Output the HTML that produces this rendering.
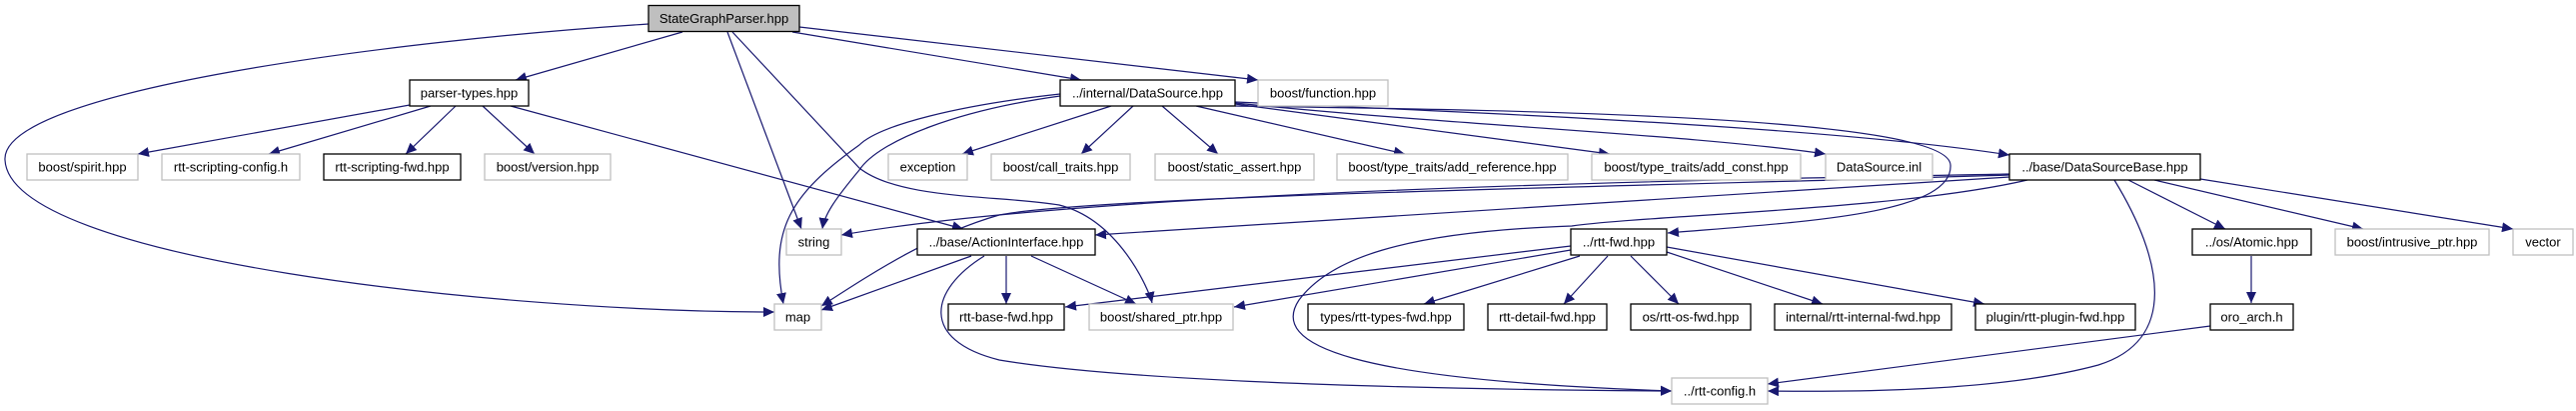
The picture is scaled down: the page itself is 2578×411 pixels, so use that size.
<!DOCTYPE html>
<html><head><meta charset="utf-8"><style>
html,body{margin:0;padding:0;background:#fff;}
svg{display:block;}
text{font-family:"Liberation Sans",sans-serif;font-size:13px;fill:#000;}
</style></head><body>
<svg width="2578" height="411" viewBox="0 0 2578 411" xmlns="http://www.w3.org/2000/svg">
<defs>
<marker id="a" markerUnits="userSpaceOnUse" markerWidth="12" markerHeight="10" refX="11" refY="5" orient="auto">
<path d="M0,0 L11,5 L0,10 z" fill="#191970"/>
</marker>
</defs>
<g fill="none" stroke="#191970" stroke-width="1.2" marker-end="url(#a)">
<!-- StateGraphParser -->
<path d="M649,24 C400,40 0,90 5,160 C10,260 500,312 775,312"/>
<path d="M683,32 L516,80"/>
<path d="M728,32 L802,229"/>
<path d="M733,32 L860,168 C900,200 1000,195 1060,205 C1120,220 1150,290 1153,303"/>
<path d="M793,32 L1082,80"/>
<path d="M800,27 L1259,80"/>
<!-- parser-types -->
<path d="M410,105 L138,154"/>
<path d="M431,106 L269,154"/>
<path d="M456,106 L406,154"/>
<path d="M483,106 L535,154"/>
<path d="M511,106 L964,229"/>
<!-- DataSource -->
<path d="M1112,106 L963,154"/>
<path d="M1134,106 L1082,154"/>
<path d="M1163,106 L1219,154"/>
<path d="M1197,106 L1406,154"/>
<path d="M1236,104 L1611,154"/>
<path d="M1236,103 C1450,125 1700,135 1827,154"/>
<path d="M1236,102 C1550,115 1850,130 2011,155"/>
<path d="M1061,96 C960,110 880,140 860,170 C835,200 825,215 823,229"/>
<path d="M1061,94 C960,105 880,125 860,145 C790,195 770,230 784,304"/>
<path d="M1236,106 C1500,110 1950,115 1952,165 C1955,215 1800,222 1669,233"/>
<!-- ActionInterface -->
<path d="M1007,256 L1007,304"/>
<path d="M1032,256 L1137,304"/>
<path d="M972,256 L822,310"/>
<path d="M985,256 C930,290 920,340 1000,360 C1150,385 1500,390 1673,391"/>
<!-- rtt-fwd -->
<path d="M1572,246 L1066,307"/>
<path d="M1572,250 L1235,307"/>
<path d="M1581,256 L1425,304"/>
<path d="M1609,256 L1565,304"/>
<path d="M1632,256 L1680,304"/>
<path d="M1668,252 L1824,304"/>
<path d="M1668,247 L1986,304"/>
<!-- DataSourceBase -->
<path d="M2130,180 L2227,229"/>
<path d="M2156,180 L2365,229"/>
<path d="M2202,179 L2515,229"/>
<path d="M2116,180 C2165,260 2180,340 2100,365 C2000,392 1850,392 1769,391"/>
<path d="M2011,177 L1096,235"/>
<path d="M2011,174 C1700,180 1100,190 842,235"/>
<path d="M2011,175 C1700,185 1100,195 1000,215 C930,235 870,275 822,306"/>
<path d="M2029,180 C1900,210 1650,215 1573,226 C1400,232 1330,260 1300,300 C1270,345 1350,380 1673,391"/>
<!-- others -->
<path d="M2253,256 L2253,303"/>
<path d="M2212,326 L1769,384"/>
</g>
<g stroke-width="1.3">
<rect x="649" y="5.5" width="151" height="26" fill="#bfbfbf" stroke="#000"/>
<rect x="410" y="80" width="119" height="26" fill="#fff" stroke="#000"/>
<rect x="27" y="154" width="111" height="26" fill="#fff" stroke="#bfbfbf"/>
<rect x="162" y="154" width="138" height="26" fill="#fff" stroke="#bfbfbf"/>
<rect x="324" y="154" width="137" height="26" fill="#fff" stroke="#000"/>
<rect x="485" y="154" width="126" height="26" fill="#fff" stroke="#bfbfbf"/>
<rect x="787" y="229" width="55" height="26" fill="#fff" stroke="#bfbfbf"/>
<rect x="775" y="304" width="47" height="26" fill="#fff" stroke="#bfbfbf"/>
<rect x="1061" y="80" width="175" height="26" fill="#fff" stroke="#000"/>
<rect x="1259" y="80" width="130" height="26" fill="#fff" stroke="#bfbfbf"/>
<rect x="889" y="154" width="79" height="26" fill="#fff" stroke="#bfbfbf"/>
<rect x="992" y="154" width="139" height="26" fill="#fff" stroke="#bfbfbf"/>
<rect x="1156" y="154" width="159" height="26" fill="#fff" stroke="#bfbfbf"/>
<rect x="1338" y="154" width="231" height="26" fill="#fff" stroke="#bfbfbf"/>
<rect x="1593" y="154" width="209" height="26" fill="#fff" stroke="#bfbfbf"/>
<rect x="1827" y="154" width="107" height="26" fill="#fff" stroke="#bfbfbf"/>
<rect x="2011" y="154" width="191" height="26" fill="#fff" stroke="#000"/>
<rect x="918" y="229" width="178" height="26" fill="#fff" stroke="#000"/>
<rect x="1572" y="229" width="96" height="26" fill="#fff" stroke="#000"/>
<rect x="2194" y="229" width="119" height="26" fill="#fff" stroke="#000"/>
<rect x="2337" y="229" width="154" height="26" fill="#fff" stroke="#bfbfbf"/>
<rect x="2515" y="229" width="60" height="26" fill="#fff" stroke="#bfbfbf"/>
<rect x="949" y="304" width="116" height="26" fill="#fff" stroke="#000"/>
<rect x="1090" y="304" width="144" height="26" fill="#fff" stroke="#bfbfbf"/>
<rect x="1309" y="304" width="156" height="26" fill="#fff" stroke="#000"/>
<rect x="1489" y="304" width="119" height="26" fill="#fff" stroke="#000"/>
<rect x="1632" y="304" width="120" height="26" fill="#fff" stroke="#000"/>
<rect x="1776" y="304" width="177" height="26" fill="#fff" stroke="#000"/>
<rect x="1977" y="304" width="160" height="26" fill="#fff" stroke="#000"/>
<rect x="2212" y="304" width="83" height="26" fill="#fff" stroke="#000"/>
<rect x="1673" y="378" width="96" height="26" fill="#fff" stroke="#bfbfbf"/>
</g>
<g text-anchor="middle">
<text x="724.5" y="23">StateGraphParser.hpp</text>
<text x="469.5" y="97.5">parser-types.hpp</text>
<text x="82.5" y="171.5">boost/spirit.hpp</text>
<text x="231" y="171.5">rtt-scripting-config.h</text>
<text x="392.5" y="171.5">rtt-scripting-fwd.hpp</text>
<text x="548" y="171.5">boost/version.hpp</text>
<text x="814.5" y="246.5">string</text>
<text x="798.5" y="321.5">map</text>
<text x="1148.5" y="97.5">../internal/DataSource.hpp</text>
<text x="1324" y="97.5">boost/function.hpp</text>
<text x="928.5" y="171.5">exception</text>
<text x="1061.5" y="171.5">boost/call_traits.hpp</text>
<text x="1235.5" y="171.5">boost/static_assert.hpp</text>
<text x="1453.5" y="171.5">boost/type_traits/add_reference.hpp</text>
<text x="1697.5" y="171.5">boost/type_traits/add_const.hpp</text>
<text x="1880.5" y="171.5">DataSource.inl</text>
<text x="2106.5" y="171.5">../base/DataSourceBase.hpp</text>
<text x="1007" y="246.5">../base/ActionInterface.hpp</text>
<text x="1620" y="246.5">../rtt-fwd.hpp</text>
<text x="2253.5" y="246.5">../os/Atomic.hpp</text>
<text x="2414" y="246.5">boost/intrusive_ptr.hpp</text>
<text x="2545" y="246.5">vector</text>
<text x="1007" y="321.5">rtt-base-fwd.hpp</text>
<text x="1162" y="321.5">boost/shared_ptr.hpp</text>
<text x="1387" y="321.5">types/rtt-types-fwd.hpp</text>
<text x="1548.5" y="321.5">rtt-detail-fwd.hpp</text>
<text x="1692" y="321.5">os/rtt-os-fwd.hpp</text>
<text x="1864.5" y="321.5">internal/rtt-internal-fwd.hpp</text>
<text x="2057" y="321.5">plugin/rtt-plugin-fwd.hpp</text>
<text x="2253.5" y="321.5">oro_arch.h</text>
<text x="1721" y="395.5">../rtt-config.h</text>
</g>
</svg>
</body></html>
